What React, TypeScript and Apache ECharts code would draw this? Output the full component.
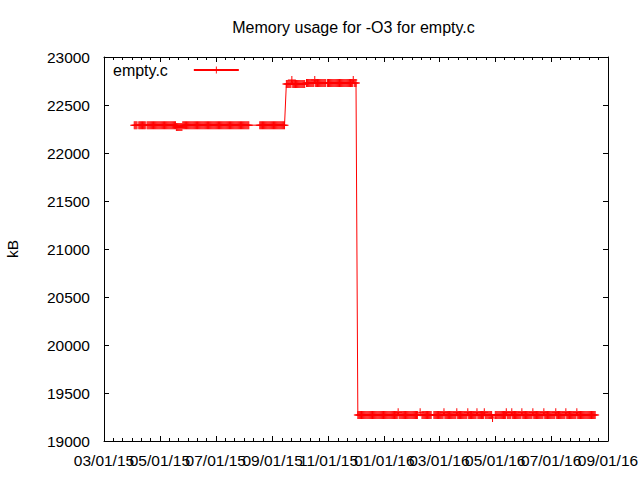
import React, { useEffect, useRef } from 'react';
import * as echarts from 'echarts';

const TITLE = 'Memory usage for -O3 for empty.c';
const SERIES_NAME = 'empty.c';
const Y_NAME = 'kB';

const X_MIN = '2015-03-01';
const X_MAX = '2016-09-01';
const X_TICKS = [
  '2015-03-01', '2015-05-01', '2015-07-01', '2015-09-01', '2015-11-01',
  '2016-01-01', '2016-03-01', '2016-05-01', '2016-07-01', '2016-09-01',
];
const Y_MIN = 19000;
const Y_MAX = 23000;
const Y_STEP = 500;

// Stretches of daily readings that all have the same value
const runStart = [
  '2015-04-03', '2015-04-08', '2015-04-17', '2015-05-19', '2015-05-26', '2015-06-29', '2015-08-18',
  '2015-09-16', '2015-10-08', '2015-10-31',
  '2015-12-03', '2016-01-17', '2016-02-11', '2016-02-24', '2016-05-01',
];
const runEnd = [
  '2015-04-06', '2015-04-15', '2015-05-18', '2015-05-25', '2015-06-28', '2015-08-06', '2015-09-14',
  '2015-10-06', '2015-10-29', '2015-12-01',
  '2016-01-16', '2016-02-06', '2016-02-21', '2016-04-27', '2016-08-18',
];
const runValue = [
  22290, 22290, 22290, 22270, 22290, 22290, 22290,
  22720, 22730, 22730,
  19270, 19270, 19270, 19270, 19270,
];

// Single readings that differ from their neighbours
const pointDate = [
  '2015-09-22', '2015-10-17', '2015-11-28',
  '2016-01-16', '2016-02-09', '2016-03-06', '2016-03-20', '2016-04-01', '2016-04-11', '2016-04-19',
  '2016-04-28', '2016-05-13', '2016-05-19', '2016-05-30', '2016-06-11', '2016-06-23', '2016-07-06',
  '2016-07-17', '2016-07-29',
];
const pointValue = [
  22760, 22760, 22760,
  19300, 19300, 19300, 19300, 19300, 19300, 19300,
  19240, 19300, 19300, 19300, 19300, 19300, 19300,
  19300, 19300,
];

const DAY = 86400000;
const ms = (s: string) => {
  const [y, m, d] = s.split('-').map(Number);
  return Date.UTC(y, m - 1, d);
};
const pad = (n: number) => String(n).padStart(2, '0');
const fmt = (v: number) => {
  const d = new Date(v);
  return `${pad(d.getUTCMonth() + 1)}/${pad(d.getUTCDate())}/${pad(d.getUTCFullYear() % 100)}`;
};

function buildData(): [number, number][] {
  const m = new Map<number, number>();
  runStart.forEach((s, i) => {
    const end = ms(runEnd[i]);
    for (let t = ms(s); t <= end; t += DAY) m.set(t, runValue[i]);
  });
  pointDate.forEach((s, i) => m.set(ms(s), pointValue[i]));
  return [...m.entries()].sort((a, b) => a[0] - b[0]);
}

const FONT = 'Liberation Sans, Arial, sans-serif';
const FS = 15.5;
const FS_TITLE = 16;
const PLUS = 'path://M0,3.5H8V4.5H0Z M3.5,0H4.5V8H3.5Z';

export default function App() {
  const ref = useRef<HTMLDivElement>(null);
  useEffect(() => {
    if (!ref.current) return;
    const chart = echarts.init(ref.current, null, { renderer: 'svg', width: 640, height: 480 });
    const majors = X_TICKS.map(ms);
    const evenMajors = majors.filter((_, i) => i % 2 === 0);
    const oddMajors = majors.filter((_, i) => i % 2 === 1);
    const minors: number[] = [];
    for (let i = 0; i < majors.length - 1; i++) {
      const a = majors[i];
      const b = majors[i + 1];
      for (let k = 1; k < 6; k++) minors.push(a + ((b - a) * k) / 6);
    }
    const black = { color: '#000', width: 1 };
    const labelStyle = {
      show: true,
      formatter: (v: number) => fmt(v),
      showMinLabel: true,
      showMaxLabel: true,
      hideOverlap: false,
      margin: 11,
      color: '#000',
      fontFamily: FONT,
      fontSize: FS,
    };
    const xBase: any = {
      type: 'value',
      min: ms(X_MIN),
      max: ms(X_MAX),
      gridIndex: 0,
      splitLine: { show: false },
      axisLine: { show: false, onZero: false },
      axisLabel: { show: false },
      axisTick: { show: false },
    };
    const option: any = {
      animation: false,
      backgroundColor: '#fff',
      title: {
        text: TITLE,
        left: 353.5,
        top: 19,
        textAlign: 'center',
        padding: 0,
        textStyle: { fontFamily: FONT, fontSize: FS_TITLE, fontWeight: 'normal', color: '#000' },
      },
      legend: {
        data: [SERIES_NAME],
        left: 113,
        top: 62,
        padding: 0,
        align: 'right',
        itemWidth: 45,
        itemHeight: 9,
        selectedMode: false,
        textStyle: { fontFamily: FONT, fontSize: FS_TITLE, color: '#000', padding: [0, 21, 0, 0] },
      },
      grid: { left: 104, top: 57, width: 504, height: 384, containLabel: false, outerBoundsMode: 'none' },
      xAxis: [
        {
          ...xBase,
          position: 'bottom',
          axisLine: { show: true, onZero: false, lineStyle: black },
          axisTick: { show: true, inside: true, length: 5, customValues: majors, lineStyle: black },
          axisLabel: { ...labelStyle, customValues: evenMajors },
        },
        {
          ...xBase,
          position: 'bottom',
          axisTick: { show: true, inside: true, length: 3, customValues: minors, lineStyle: black },
          axisLabel: { ...labelStyle, customValues: oddMajors },
        },
        {
          ...xBase,
          position: 'top',
          axisLine: { show: true, onZero: false, lineStyle: black },
          axisTick: { show: true, inside: true, length: 5, customValues: majors, lineStyle: black },
        },
        {
          ...xBase,
          position: 'top',
          axisTick: { show: true, inside: true, length: 3, customValues: minors, lineStyle: black },
        },
      ],
      yAxis: [
        {
          type: 'value',
          min: Y_MIN,
          max: Y_MAX,
          interval: Y_STEP,
          position: 'left',
          splitLine: { show: false },
          axisLine: { show: true, onZero: false, lineStyle: black },
          axisTick: { show: true, inside: true, length: 5, lineStyle: black },
          axisLabel: {
            margin: 14,
            color: '#000',
            fontFamily: FONT,
            fontSize: FS,
            showMinLabel: true,
            showMaxLabel: true,
            formatter: (v: number) => String(v),
          },
          name: Y_NAME,
          nameLocation: 'middle',
          nameRotate: 90,
          nameGap: 84,
          nameMoveOverlap: false,
          nameTextStyle: { fontFamily: FONT, fontSize: FS, color: '#000' },
        },
        {
          type: 'value',
          min: Y_MIN,
          max: Y_MAX,
          interval: Y_STEP,
          position: 'right',
          splitLine: { show: false },
          axisLine: { show: true, onZero: false, lineStyle: black },
          axisTick: { show: true, inside: true, length: 5, lineStyle: black },
          axisLabel: { show: false },
        },
      ],
      series: [
        {
          type: 'line',
          name: SERIES_NAME,
          xAxisIndex: 0,
          yAxisIndex: 0,
          data: buildData(),
          symbol: PLUS,
          symbolSize: 8,
          showAllSymbol: true,
          lineStyle: { color: '#ff0000', width: 1 },
          itemStyle: { color: '#ff0000', borderWidth: 0 },
          emphasis: { disabled: true },
          silent: true,
        },
      ],
    };
    chart.setOption(option);
    return () => chart.dispose();
  }, []);
  return (
    <div
      ref={ref}
      style={{ position: 'fixed', left: 0, top: 0, width: 640, height: 480, background: '#fff' }}
    />
  );
}
